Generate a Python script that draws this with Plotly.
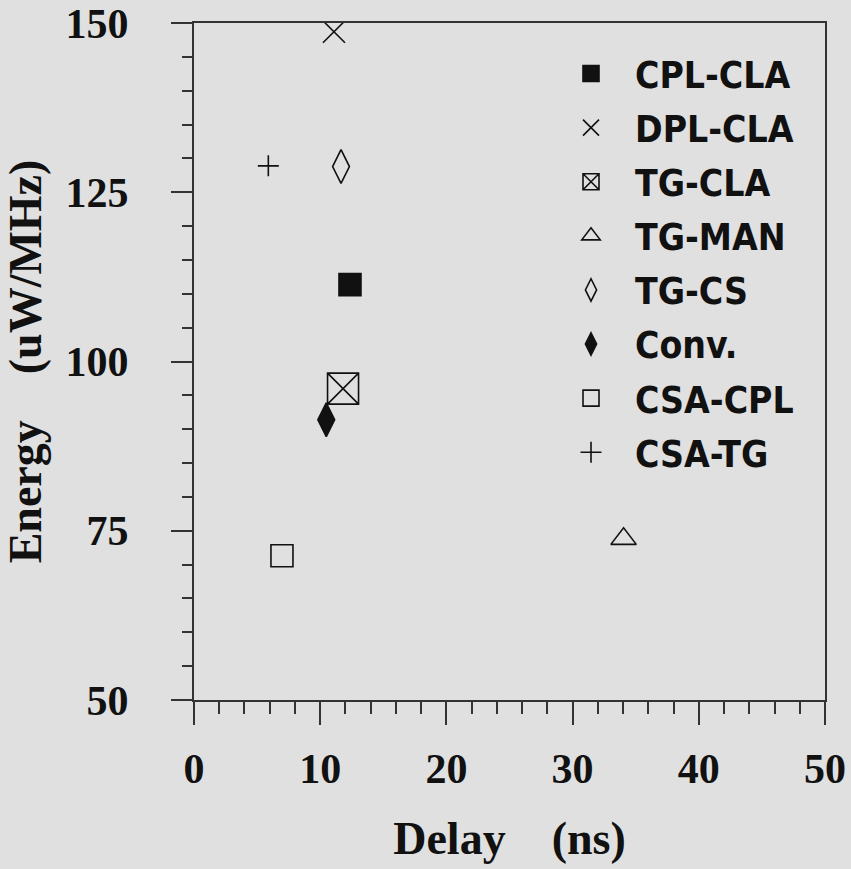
import plotly.graph_objects as go

# ---- data ----
series_names = ["CPL-CLA", "DPL-CLA", "TG-CLA", "TG-MAN", "TG-CS", "Conv.", "CSA-CPL", "CSA-TG"]
delay_ns = [12.36, 11.09, 11.81, 34.04, 11.65, 10.48, 6.97, 5.89]
energy_uw_mhz = [111.35, 148.7, 96.0, 73.8, 128.8, 91.4, 71.3, 128.9]

x_ticks = [0, 10, 20, 30, 40, 50]
y_ticks = [50, 75, 100, 125, 150]

# ---- styles ----
symbols = ["square", "x-thin-open", "square-x-open", "triangle-up-open",
           "diamond-tall-open", "diamond-tall", "square-open", "cross-thin-open"]
sizes = [22, 22, 31, 22, 24, 24, 22, 15]

BG = "#e0e0e0"
INK = "#111111"
AX = "#333333"

fig = go.Figure()
for name, x, y, sym, sz in zip(series_names, delay_ns, energy_uw_mhz, symbols, sizes):
    fig.add_trace(go.Scatter(
        x=[x], y=[y], mode="markers", name=name, legendgroup=name,
        marker=dict(symbol=sym, size=sz, color=INK,
                    line=dict(color=INK, width=1.6)),
    ))

serif = "Liberation Serif, Times New Roman, serif"
fig.update_layout(
    width=851, height=869,
    margin=dict(l=194, r=26, t=23, b=169),
    paper_bgcolor=BG, plot_bgcolor=BG,
    showlegend=True,
    legend=dict(
        x=(547 - 194) / 631, xanchor="left",
        y=(700 - 43) / 677, yanchor="top",
        bgcolor="rgba(0,0,0,0)",
        font=dict(family="Liberation Sans Narrow, DejaVu Sans Condensed, Arial Narrow, sans-serif",
                  size=37, color=INK, weight="bold"),
        itemwidth=78,
        tracegroupgap=3,
    ),
    xaxis=dict(
        range=[0, 50], tickvals=x_ticks, ticktext=[str(v) for v in x_ticks],
        showgrid=False, zeroline=False, automargin=False,
        showline=True, linecolor=AX, linewidth=2, mirror=True,
        ticks="outside", ticklen=23, tickwidth=1.5, tickcolor=AX,
        minor=dict(dtick=2, ticks="outside", ticklen=12, tickwidth=1.5, tickcolor=AX),
        tickfont=dict(family=serif, size=42, color=INK, weight="bold"),
        ticklabelstandoff=8,
        title=dict(text="Delay\u00a0\u00a0\u00a0\u00a0(ns)", standoff=30,
                   font=dict(family=serif, size=46, color=INK, weight="bold")),
    ),
    yaxis=dict(
        range=[50, 150], tickvals=y_ticks, ticktext=[str(v) for v in y_ticks],
        showgrid=False, zeroline=False, automargin=False,
        showline=True, linecolor=AX, linewidth=2, mirror=True,
        ticks="outside", ticklen=21, tickwidth=1.5, tickcolor=AX,
        minor=dict(dtick=5, ticks="outside", ticklen=10, tickwidth=1.5, tickcolor=AX),
        tickfont=dict(family=serif, size=42, color=INK, weight="bold"),
        ticklabelstandoff=34,
        title=dict(text="Energy\u00a0\u00a0\u00a0\u00a0(uW/MHz)", standoff=10,
                   font=dict(family=serif, size=46, color=INK, weight="bold")),
    ),
)

fig.write_html("out.html", config={"displayModeBar": False},
               post_script="document.body.style.margin='0';")
